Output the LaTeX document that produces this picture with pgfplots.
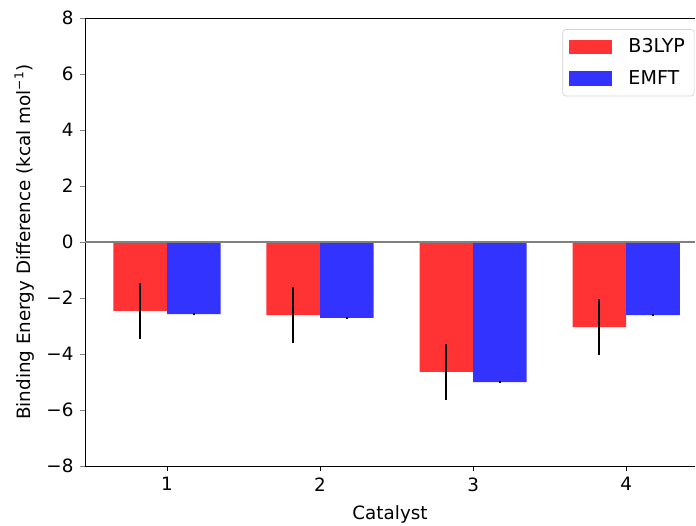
\documentclass[border=0pt,12pt]{standalone}
\usepackage{fontspec}
\setmainfont{DejaVu Sans}
\usepackage{pgfplots}
\pgfplotsset{compat=1.18}
\definecolor{bred}{RGB}{255,51,51}
\definecolor{bblue}{RGB}{51,51,255}
\begin{document}
\begin{tikzpicture}
\begin{axis}[
    scale only axis,
    width=399.3pt,
    height=293.2pt,
    ybar,
    bar width=0.35,
    xmin=0.464, xmax=4.45,
    ymin=-8, ymax=8,
    xtick={1,2,3,4},
    ytick={-8,-6,...,8},
    yticklabels={−8,−6,−4,−2,0,2,4,6,8},
    axis y line*=left,
    x tick style={draw=black},
    tick align=outside,
    tick pos=left,
    major tick length=3.3pt,
    tick label style={font=\fontsize{12}{14}\selectfont},
    label style={font=\fontsize{12}{14}\selectfont},
    /pgf/number format/assume math mode=true,
    xlabel={Catalyst},
    ylabel={Binding Energy Difference (kcal mol\textsuperscript{−1})},
    xlabel style={yshift=-1pt},
    legend style={font=\fontsize{12.5}{14}\selectfont, draw=gray!35, rounded corners=2pt,
        at={(0.999,0.975)}, anchor=north east, inner xsep=4pt, inner ysep=4pt,
        row sep=5.5pt},
    legend cell align=left,
    legend image code/.code={\fill[#1, sharp corners] (0pt,-4.7pt) rectangle (28pt,4.7pt);},
    error bars/error bar style={line width=1.3pt, black},
    error bars/error mark=none,
]
\addplot[fill=bred, draw=none, bar shift=-0.175,
    error bars/.cd, y dir=both, y explicit]
    coordinates {(1,-2.46) +- (0,0.99) (2,-2.61) +- (0,0.99) (3,-4.64) +- (0,1.0) (4,-3.04) +- (0,0.99)};
\addlegendentry{\hspace*{9pt}B3LYP}
\addplot[fill=bblue, draw=none, bar shift=0.175,
    error bars/.cd, y dir=both, y explicit]
    coordinates {(1,-2.57) +- (0,0.05) (2,-2.71) +- (0,0.04) (3,-5.0) +- (0,0.04) (4,-2.61) +- (0,0.04)};
\addlegendentry{\hspace*{9pt}EMFT}
\draw[gray, line width=0.9pt] (axis cs:0.464,0) -- (axis cs:4.45,0);
\end{axis}
\pgfresetboundingbox
\path (-55.6pt,-38.6pt) rectangle (399.9pt,305pt);
\end{tikzpicture}
\end{document}
